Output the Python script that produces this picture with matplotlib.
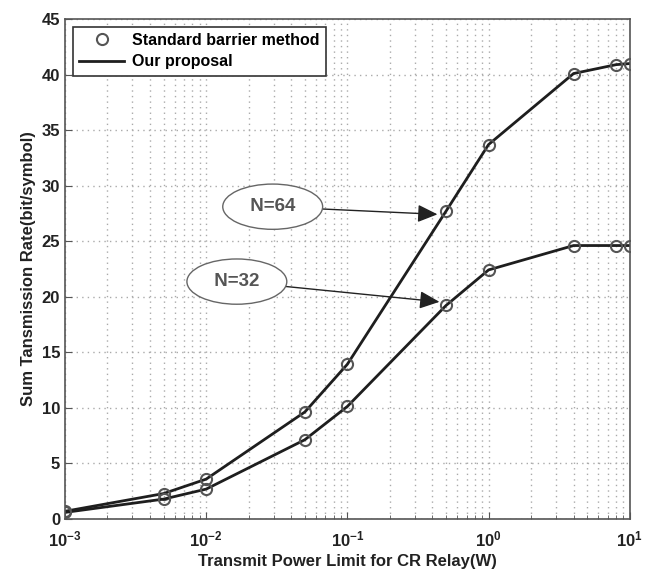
import numpy as np
import matplotlib.pyplot as plt
from matplotlib.lines import Line2D

plt.rcParams['font.family'] = ['Liberation Sans', 'DejaVu Sans']
plt.rcParams['font.weight'] = 'bold'

power = [0.001, 0.005, 0.01, 0.05, 0.1, 0.5, 1, 4, 8, 10]
rate_n64 = [0.65, 2.25, 3.55, 9.6, 13.9, 27.7, 33.7, 40.1, 40.9, 41.0]
rate_n32 = [0.55, 1.75, 2.65, 7.1, 10.1, 19.2, 22.4, 24.6, 24.6, 24.6]

line_col = '#1e1e1e'
mark_col = '#555555'
axis_col = '#555555'

fig = plt.figure(figsize=(6.56, 5.72), dpi=100)
ax = fig.add_axes([0.099, 0.0935, 0.861, 0.873])

for r in (rate_n64, rate_n32):
    ax.plot(power, r, color=line_col, lw=2)
    ax.plot(power, r, 'o', ms=8, mfc='none', mec=mark_col, mew=1.5)

ax.set_xscale('log')
ax.set_xlim(1e-3, 10)
ax.set_ylim(0, 45)
ax.set_yticks(np.arange(0, 46, 5))
ax.grid(True, which='major', ls=(0, (1, 3)), color='#aaaaaa', lw=1)
ax.grid(True, which='minor', axis='x', ls=(0, (1, 3)), color='#aaaaaa', lw=1)
ax.tick_params(which='both', direction='in', labelsize=12, colors=axis_col, labelcolor='#222222')
ax.tick_params(which='major', length=5)
ax.tick_params(which='minor', length=3)
ax.tick_params(axis='x', which='major', pad=8)
for s in ax.spines.values():
    s.set_color(axis_col)
    s.set_linewidth(1.2)

ax.set_xlabel('Transmit Power Limit for CR Relay(W)', fontsize=12, fontweight='bold', color='#222222', labelpad=3)
ax.set_ylabel('Sum Tansmission Rate(bit/symbol)', fontsize=12, fontweight='bold', color='#222222', labelpad=4)

handles = [Line2D([], [], ls='none', marker='o', ms=8, mfc='none', mec=mark_col, mew=1.5),
           Line2D([], [], color=line_col, lw=2)]
leg = ax.legend(handles, ['Standard barrier method', 'Our proposal'], loc='upper left',
                bbox_to_anchor=(0.014, 0.985), borderaxespad=0, fontsize=11.5, fancybox=False,
                framealpha=1, borderpad=0.4, labelspacing=0.4, handlelength=2.8,
                handletextpad=0.5)
leg.get_frame().set_edgecolor('#333333')
leg.get_frame().set_linewidth(1.2)

ell = dict(boxstyle='ellipse,pad=0.4', fc='white', ec='#666666', lw=1)
arr = dict(arrowstyle='-|>,head_length=0.9,head_width=0.4', color='#222222', lw=1,
           shrinkA=0, shrinkB=2)
ax.annotate(' N=64 ', xy=(0.455, 27.4), xytext=(0.0296, 28.1), fontsize=13.5, fontweight='bold',
            color='#555555', ha='center', va='center', bbox=ell, arrowprops=arr)
ax.annotate(' N=32 ', xy=(0.47, 19.5), xytext=(0.0165, 21.35), fontsize=13.5, fontweight='bold',
            color='#555555', ha='center', va='center', bbox=ell, arrowprops=arr)

fig.savefig('out.png', dpi=100)
